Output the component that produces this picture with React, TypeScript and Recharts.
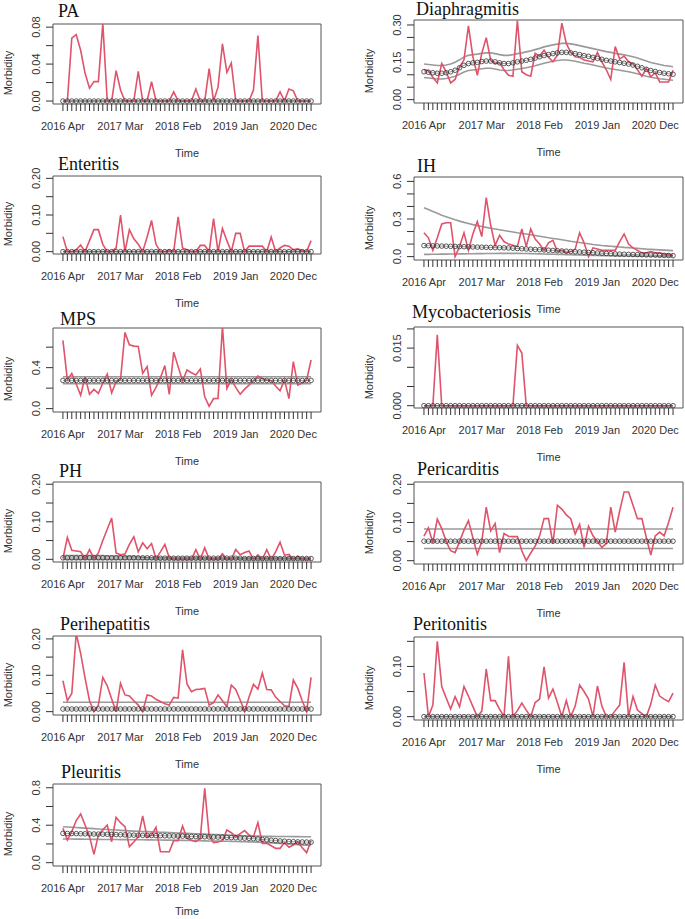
import React from 'react';
import { LineChart, Line, XAxis, YAxis, ReferenceArea } from 'recharts';

// months 2016 Apr .. 2020 Dec as index
const MONTH_IDX = [
  0, 1, 2, 3, 4, 5, 6, 7, 8, 9, 10, 11, 12, 13, 14, 15, 16, 17, 18, 19,
  20, 21, 22, 23, 24, 25, 26, 27, 28, 29, 30, 31, 32, 33, 34, 35, 36, 37, 38, 39,
  40, 41, 42, 43, 44, 45, 46, 47, 48, 49, 50, 51, 52, 53, 54, 55, 56,
];
const TICK_LABELS = ['2016 Apr', '2017 Mar', '2018 Feb', '2019 Jan', '2020 Dec'];
const TICK_AT = [0, 13, 26, 39, 52];

const ZERO_LEVEL = [
  0, 0, 0, 0, 0, 0, 0, 0, 0, 0, 0, 0, 0, 0, 0, 0, 0, 0, 0, 0,
  0, 0, 0, 0, 0, 0, 0, 0, 0, 0, 0, 0, 0, 0, 0, 0, 0, 0, 0, 0,
  0, 0, 0, 0, 0, 0, 0, 0, 0, 0, 0, 0, 0, 0, 0, 0, 0,
];

const PA_OBS = [0, 0, .068, .072, .055, .030, .014, .021, .021, .084, 0, 0, .033, .012, 0, 0, 0, .032, 0, 0, .021, 0, 0, 0, 0, .010, 0, 0, 0, 0, .013, 0, 0, .035, 0, .015, .062, .031, .041, 0, 0, 0, 0, .012, .071, 0, 0, 0, 0, .010, 0, .013, .011, 0, 0, 0, 0];

const DIA_OBS = [.121, .116, .09, .067, .145, .112, .067, .081, .132, .16, .296, .172, .098, .186, .249, .159, .145, .148, .12, .098, .094, .318, .112, .10, .094, .186, .175, .199, .17, .152, .179, .307, .226, .19, .172, .17, .159, .155, .152, .19, .152, .12, .081, .213, .163, .175, .152, .145, .12, .094, .125, .092, .108, .071, .071, .071, .118];
const DIA_EXP = [.112, .110, .108, .106, .106, .108, .112, .118, .128, .138, .145, .148, .150, .153, .155, .155, .152, .148, .145, .145, .148, .152, .155, .158, .162, .167, .172, .177, .181, .185, .188, .19, .19, .188, .185, .181, .177, .174, .17, .166, .162, .158, .155, .152, .149, .146, .143, .139, .134, .128, .122, .117, .113, .109, .106, .104, .102];
const DIA_UP = [.143, .141, .139, .137, .137, .139, .143, .150, .160, .171, .178, .181, .183, .186, .188, .188, .185, .181, .178, .178, .181, .185, .188, .192, .196, .201, .206, .212, .216, .220, .223, .226, .226, .224, .221, .217, .213, .209, .205, .201, .197, .193, .190, .186, .183, .180, .176, .172, .167, .161, .155, .149, .145, .141, .137, .135, .132];
const DIA_LO = [.089, .087, .085, .083, .083, .085, .089, .094, .102, .111, .117, .119, .121, .124, .126, .126, .123, .119, .117, .117, .119, .122, .125, .128, .132, .136, .141, .146, .150, .154, .157, .159, .159, .157, .154, .150, .146, .143, .139, .135, .131, .127, .124, .121, .118, .115, .112, .108, .104, .099, .094, .090, .087, .084, .082, .080, .078];

const ENT_OBS = [.041, 0, 0, .005, .018, 0, .03, .06, .06, .02, 0, 0, .01, .10, 0, .06, .035, .02, 0, .04, .085, .02, 0, 0, .005, 0, .095, .01, .005, 0, 0, .017, .017, 0, .09, 0, .063, .03, 0, .05, .05, 0, .015, .015, .015, .015, 0, .04, 0, .01, .017, .015, .005, .008, .003, 0, .03];

const IH_OBS = [.19, .15, .05, .15, .26, .27, .27, 0, .08, .19, .05, .18, .28, .16, .47, .25, .09, .17, .12, .10, .09, .08, .22, .08, .22, .14, .10, .05, .11, .13, .04, .05, .03, .04, .06, .19, .11, 0, .07, .06, .05, .05, .05, .05, .12, .18, .10, .07, .05, .03, .03, .04, .03, .03, .02, .02, .01];
const IH_EXP = [.088, .087, .086, .085, .084, .083, .082, .081, .080, .079, .078, .077, .076, .075, .074, .073, .072, .071, .070, .069, .067, .065, .063, .061, .059, .057, .055, .053, .051, .049, .047, .045, .043, .041, .039, .037, .035, .033, .031, .029, .027, .025, .023, .021, .020, .019, .018, .017, .016, .015, .014, .013, .012, .011, .010, .009, .008];
const IH_UP = [.39, .375, .36, .345, .33, .318, .306, .294, .283, .273, .264, .255, .247, .24, .233, .226, .22, .214, .208, .202, .196, .19, .185, .18, .174, .168, .162, .156, .150, .145, .140, .134, .128, .122, .117, .112, .107, .102, .097, .093, .089, .086, .083, .080, .077, .074, .072, .069, .066, .063, .060, .058, .056, .054, .052, .050, .048];
const IH_LO = [.018, .018, .019, .019, .020, .020, .021, .021, .022, .022, .023, .023, .024, .024, .025, .025, .025, .026, .026, .026, .026, .026, .025, .025, .024, .023, .022, .021, .020, .019, .018, .017, .016, .015, .014, .013, .012, .011, .010, .009, .008, .007, .007, .006, .006, .005, .005, .004, .004, .004, .003, .003, .003, .002, .002, .002, .002];

const MPS_OBS = [.666, .28, .344, .24, .13, .31, .14, .187, .148, .25, .338, .154, .262, .285, .744, .623, .61, .607, .344, .41, .13, .207, .30, .42, .138, .551, .41, .269, .377, .35, .328, .387, .115, .023, .098, .10, .80, .197, .285, .207, .141, .19, .23, .272, .318, .292, .28, .272, .22, .174, .28, .098, .459, .23, .25, .28, .475];
const MPS_EXP = [.275, .275, .275, .275, .275, .275, .275, .275, .275, .275, .275, .275, .275, .275, .275, .275, .275, .275, .275, .275, .275, .275, .275, .275, .275, .275, .275, .275, .275, .275, .275, .275, .275, .275, .275, .275, .275, .275, .275, .275, .275, .275, .275, .275, .275, .275, .275, .275, .275, .275, .275, .275, .275, .275, .275, .275, .275];
const MPS_UP = [.311, .311, .311, .311, .311, .311, .311, .311, .311, .311, .311, .311, .311, .311, .311, .311, .311, .311, .311, .311, .311, .311, .311, .311, .311, .311, .311, .311, .311, .311, .311, .311, .311, .311, .311, .311, .311, .311, .311, .311, .311, .311, .311, .311, .311, .311, .311, .311, .311, .311, .311, .311, .311, .311, .311, .311, .311];
const MPS_LO = [.243, .243, .243, .243, .243, .243, .243, .243, .243, .243, .243, .243, .243, .243, .243, .243, .243, .243, .243, .243, .243, .243, .243, .243, .243, .243, .243, .243, .243, .243, .243, .243, .243, .243, .243, .243, .243, .243, .243, .243, .243, .243, .243, .243, .243, .243, .243, .243, .243, .243, .243, .243, .243, .243, .243, .243, .243];

const MYC_OBS = [0, 0, 0, .0185, 0, 0, 0, 0, 0, 0, 0, 0, 0, 0, 0, 0, 0, 0, 0, 0, 0, .0157, .0137, 0, 0, 0, 0, 0, 0, 0, 0, 0, 0, 0, 0, 0, 0, 0, 0, 0, 0, 0, 0, 0, 0, 0, 0, 0, 0, 0, 0, 0, 0, 0, 0, 0, 0];

const PH_OBS = [.002, .058, .024, .022, .020, .002, .026, .002, .017, .05, .08, .11, .017, .012, .014, .04, .06, .02, .044, .028, .042, .002, .02, .04, .004, 0, 0, 0, 0, 0, .026, 0, .031, 0, 0, 0, .015, 0, 0, .026, .012, .018, .022, 0, .012, 0, .026, 0, .02, .046, .011, .013, 0, .009, 0, 0, 0];
const PH_EXP = [.004, .004, .004, .004, .004, .004, .004, .004, .004, .004, .004, .004, .004, .004, .004, .004, .004, .004, .004, .004, .004, .003, .003, .003, .003, .003, .003, .003, .003, .003, .003, .003, .003, .003, .003, .003, .003, .003, .003, .003, .003, .002, .002, .002, .002, .002, .002, .002, .002, .002, .002, .002, .002, .002, .002, .002, .002];
const PH_UP = [.010, .010, .010, .010, .010, .010, .010, .010, .010, .010, .009, .009, .009, .009, .008, .008, .008, .007, .006, .005, .005, .005, .005, .005, .005, .005, .005, .005, .005, .005, .005, .004, .004, .004, .004, .004, .004, .004, .004, .004, .004, .004, .004, .004, .004, .004, .004, .004, .004, .004, .004, .004, .004, .004, .004, .004, .004];

const PERIC_OBS = [.064, .086, .047, .109, .084, .05, .026, .021, .05, .08, .105, .06, .017, .05, .14, .078, .097, .021, .071, .064, .063, .063, .026, 0, .02, .038, .065, .11, .11, .045, .145, .135, .12, .11, .07, .095, .035, .09, .065, .05, .035, .045, .14, .075, .13, .18, .18, .145, .11, .11, .06, .015, .065, .075, .065, .10, .14];
const PERIC_EXP = [.051, .051, .051, .051, .051, .051, .051, .051, .051, .051, .051, .051, .051, .051, .051, .051, .051, .051, .051, .051, .051, .051, .051, .051, .051, .051, .051, .051, .051, .051, .051, .051, .051, .051, .051, .051, .051, .051, .051, .051, .051, .051, .051, .051, .051, .051, .051, .051, .051, .051, .051, .051, .051, .051, .051, .051, .051];
const PERIC_UP = [.083, .083, .083, .083, .083, .083, .083, .083, .083, .083, .083, .083, .083, .083, .083, .083, .083, .083, .083, .083, .083, .083, .083, .083, .083, .083, .083, .083, .083, .083, .083, .083, .083, .083, .083, .083, .083, .083, .083, .083, .083, .083, .083, .083, .083, .083, .083, .083, .083, .083, .083, .083, .083, .083, .083, .083, .083];
const PERIC_LO = [.032, .032, .032, .032, .032, .032, .032, .032, .032, .032, .032, .032, .032, .032, .032, .032, .032, .032, .032, .032, .032, .032, .032, .032, .032, .032, .032, .032, .032, .032, .032, .032, .032, .032, .032, .032, .032, .032, .032, .032, .032, .032, .032, .032, .032, .032, .032, .032, .032, .032, .032, .032, .032, .032, .032, .032, .032];

const PERIH_OBS = [.085, .03, .05, .215, .16, .092, .03, 0, .018, .094, .071, .035, 0, .078, .046, .043, .03, .018, 0, .046, .043, .034, .028, .022, .018, .039, .037, .17, .076, .055, .061, .062, .064, .018, .025, .046, .03, .014, .073, .061, .032, 0, .04, .075, .062, .106, .061, .06, .04, .028, .016, .014, .087, .064, .03, 0, .094];
const PERIH_EXP = [.0073, .0073, .0073, .0073, .0073, .0073, .0073, .0073, .0073, .0073, .0073, .0073, .0073, .0073, .0073, .0073, .0073, .0073, .0073, .0073, .0073, .0073, .0073, .0073, .0073, .0073, .0073, .0073, .0073, .0073, .0073, .0073, .0073, .0073, .0073, .0073, .0073, .0073, .0073, .0073, .0073, .0073, .0073, .0073, .0073, .0073, .0073, .0073, .0073, .0073, .0073, .0073, .0073, .0073, .0073, .0073, .0073];
const PERIH_UP = [.026, .026, .026, .026, .026, .026, .026, .026, .026, .026, .026, .026, .026, .026, .026, .026, .026, .026, .026, .026, .026, .026, .026, .026, .026, .026, .026, .026, .026, .026, .026, .026, .026, .026, .026, .026, .026, .026, .026, .026, .026, .026, .026, .026, .026, .026, .026, .026, .026, .026, .026, .026, .026, .026, .026, .026, .026];

const PERIT_OBS = [.087, 0, .023, .15, .06, .037, .015, .04, .02, .06, .041, .02, 0, .011, .095, .032, .032, .015, 0, .12, 0, .012, .027, .013, 0, .028, .035, .099, .037, .055, .028, 0, .032, 0, .021, .063, .05, .035, 0, .061, .021, 0, 0, .012, .023, .108, 0, .04, .013, .006, 0, .025, .063, .041, .035, .03, .047];

const PLE_OBS = [.367, .242, .331, .45, .52, .402, .278, .089, .295, .35, .402, .224, .484, .427, .384, .171, .22, .278, .498, .27, .295, .377, .117, .117, .117, .235, .235, .391, .26, .24, .224, .26, .794, .285, .214, .22, .235, .349, .32, .278, .31, .342, .295, .278, .427, .206, .206, .18, .153, .153, .214, .164, .189, .224, .16, .107, .235];
const PLE_EXP = [.313, .312, .311, .310, .309, .308, .307, .306, .305, .304, .303, .302, .300, .298, .297, .295, .294, .293, .292, .291, .290, .289, .288, .287, .286, .285, .284, .283, .281, .280, .278, .277, .276, .275, .274, .273, .272, .270, .268, .266, .264, .262, .260, .256, .252, .248, .244, .240, .236, .232, .229, .226, .224, .222, .221, .220, .219];
const PLE_UP = [.384, .381, .378, .375, .372, .369, .366, .363, .360, .357, .354, .351, .348, .345, .342, .339, .337, .335, .333, .331, .329, .327, .325, .323, .321, .319, .317, .315, .313, .311, .309, .307, .305, .303, .301, .299, .297, .295, .293, .291, .289, .287, .285, .284, .283, .282, .281, .281, .280, .280, .279, .279, .278, .278, .277, .277, .277];
const PLE_LO = [.253, .252, .252, .251, .251, .250, .250, .249, .249, .248, .248, .247, .247, .246, .246, .245, .245, .244, .244, .243, .243, .242, .242, .241, .241, .240, .239, .238, .237, .236, .235, .234, .233, .232, .231, .230, .229, .228, .227, .226, .225, .224, .222, .220, .218, .216, .214, .211, .208, .205, .202, .199, .196, .193, .190, .187, .185];

// layout: box = [left, top, width, height] of the plot frame in page px
const PANELS = [
  { title: 'PA', obs: PA_OBS, exp: ZERO_LEVEL, up: ZERO_LEVEL, lo: null, box: [53, 24, 268, 80], yDomain: [-0.0032, 0.0834], yTicks: [0, 0.02, 0.04, 0.06, 0.08], yText: ['0.00', '', '0.04', '', '0.08'], titleAt: [58, 2] },
  { title: 'Diaphragmitis', obs: DIA_OBS, exp: DIA_EXP, up: DIA_UP, lo: DIA_LO, box: [414, 20, 269, 83], yDomain: [-0.0135, 0.32], yTicks: [0, 0.05, 0.1, 0.15, 0.2, 0.25, 0.3], yText: ['0.00', '', '', '0.15', '', '', '0.30'], titleAt: [416, 0] },
  { title: 'Enteritis', obs: ENT_OBS, exp: ZERO_LEVEL, up: ZERO_LEVEL, lo: null, box: [53, 176, 268, 78], yDomain: [-0.0064, 0.2064], yTicks: [0, 0.05, 0.1, 0.15, 0.2], yText: ['0.00', '', '0.10', '', '0.20'], titleAt: [58, 155] },
  { title: 'IH', obs: IH_OBS, exp: IH_EXP, up: IH_UP, lo: IH_LO, box: [414, 177, 269, 83], yDomain: [-0.027, 0.635], yTicks: [0, 0.1, 0.2, 0.3, 0.4, 0.5, 0.6], yText: ['0.0', '', '', '0.3', '', '', '0.6'], titleAt: [417, 157] },
  { title: 'MPS', obs: MPS_OBS, exp: MPS_EXP, up: MPS_UP, lo: MPS_LO, box: [53, 328, 268, 84], yDomain: [-0.033, 0.787], yTicks: [0, 0.2, 0.4, 0.6], yText: ['0.0', '', '0.4', ''], titleAt: [60, 310] },
  { title: 'Mycobacteriosis', obs: MYC_OBS, exp: ZERO_LEVEL, up: ZERO_LEVEL, lo: null, box: [414, 327, 269, 81], yDomain: [-0.0006, 0.0205], yTicks: [0, 0.005, 0.01, 0.015, 0.02], yText: ['0.000', '', '', '0.015', ''], titleAt: [412, 303] },
  { title: 'PH', obs: PH_OBS, exp: PH_EXP, up: PH_UP, lo: ZERO_LEVEL, box: [53, 482, 268, 80], yDomain: [-0.0071, 0.206], yTicks: [0, 0.05, 0.1, 0.15, 0.2], yText: ['0.00', '', '0.10', '', '0.20'], titleAt: [59, 462] },
  { title: 'Pericarditis', obs: PERIC_OBS, exp: PERIC_EXP, up: PERIC_UP, lo: PERIC_LO, box: [414, 482, 269, 82], yDomain: [-0.0087, 0.206], yTicks: [0, 0.05, 0.1, 0.15, 0.2], yText: ['0.00', '', '0.10', '', '0.20'], titleAt: [417, 460] },
  { title: 'Perihepatitis', obs: PERIH_OBS, exp: PERIH_EXP, up: PERIH_UP, lo: null, box: [53, 636, 268, 79], yDomain: [-0.0092, 0.208], yTicks: [0, 0.05, 0.1, 0.15, 0.2], yText: ['0.00', '', '0.10', '', '0.20'], titleAt: [60, 615] },
  { title: 'Peritonitis', obs: PERIT_OBS, exp: ZERO_LEVEL, up: ZERO_LEVEL, lo: null, box: [414, 637, 269, 83], yDomain: [-0.0067, 0.1587], yTicks: [0, 0.05, 0.1, 0.15], yText: ['0.00', '', '0.10', ''], titleAt: [413, 615] },
  { title: 'Pleuritis', obs: PLE_OBS, exp: PLE_EXP, up: PLE_UP, lo: PLE_LO, box: [53, 784, 268, 82], yDomain: [-0.0356, 0.84], yTicks: [0, 0.2, 0.4, 0.6, 0.8], yText: ['0.0', '', '0.4', '', '0.8'], titleAt: [61, 763] },
];

const X_DOMAIN = [-2.24, 58.24];
// chart margins around the plot frame; axes take 1px each so they render
const ML = 52, MT = 10, MR = 2, MB = 44;
const SANS = '"Liberation Sans", Arial, sans-serif';
const SERIF = '"Liberation Serif", "Times New Roman", serif';
const RED = '#DF536B';
const GREY = '#9a9a9a';
const INK = '#333';

const XTick = (props: any) => {
  const { x, y, index } = props;
  const k = TICK_AT.indexOf(index);
  if (k < 0) return <g />;
  return (
    <text x={x} y={y + 19} textAnchor="middle" fontSize={11} fontFamily={SANS} fill={INK}>
      {TICK_LABELS[k]}
    </text>
  );
};

const makeYTick = (texts: string[]) => (props: any) => {
  const { x, y, index } = props;
  const t = texts[index];
  if (!t) return <g />;
  const bx = x - 6;
  return (
    <text x={bx} y={y} transform={`rotate(-90 ${bx} ${y})`} textAnchor="middle" fontSize={11} fontFamily={SANS} fill={INK}>
      {t}
    </text>
  );
};

function Panel({ p }: { p: any }) {
  const [bl, bt, bw, bh] = p.box;
  const rows = MONTH_IDX.map((m, k) => ({
    m,
    obs: p.obs[k],
    exp: p.exp[k],
    up: p.up ? p.up[k] : null,
    lo: p.lo ? p.lo[k] : null,
  }));
  const YTick = makeYTick(p.yText);
  return (
    <>
      <div style={{ position: 'absolute', left: p.titleAt[0], top: p.titleAt[1], fontFamily: SERIF, fontSize: 18, lineHeight: '18px', color: '#111', whiteSpace: 'nowrap' }}>
        {p.title}
      </div>
      <div style={{ position: 'absolute', left: bl - 45, top: bt + bh / 2 + 9, transform: 'translate(-50%, -50%) rotate(-90deg)', fontFamily: SANS, fontSize: 11, color: INK, whiteSpace: 'nowrap' }}>
        Morbidity
      </div>
      <div style={{ position: 'absolute', left: bl + bw / 2, top: Math.min(bt + bh + 49, 911), transform: 'translate(-50%, -50%)', fontFamily: SANS, fontSize: 11, color: INK, whiteSpace: 'nowrap' }}>
        Time
      </div>
      <div style={{ position: 'absolute', left: bl - ML - 1, top: bt - MT }}>
        <LineChart width={bw + ML + 1 + MR} height={bh + MT + 1 + MB} data={rows} margin={{ top: MT, right: MR, bottom: MB, left: ML }}>
          <XAxis
            type="number"
            dataKey="m"
            domain={X_DOMAIN}
            ticks={MONTH_IDX}
            interval={0}
            height={1}
            tickSize={7}
            tickMargin={0}
            axisLine={false}
            tickLine={{ stroke: INK, strokeWidth: 1 }}
            tick={<XTick />}
            allowDataOverflow
          />
          <YAxis
            type="number"
            domain={p.yDomain}
            ticks={p.yTicks}
            interval={0}
            width={1}
            tickSize={7}
            tickMargin={0}
            axisLine={false}
            tickLine={{ stroke: INK, strokeWidth: 1 }}
            tick={<YTick />}
            allowDataOverflow
          />
          <ReferenceArea x1={X_DOMAIN[0]} x2={X_DOMAIN[1]} y1={p.yDomain[0]} y2={p.yDomain[1]} fill="none" stroke="#555" strokeWidth={1} ifOverflow="visible" />
          {p.up && <Line dataKey="up" stroke={GREY} strokeWidth={1.6} dot={false} isAnimationActive={false} />}
          {p.lo && <Line dataKey="lo" stroke={GREY} strokeWidth={1.6} dot={false} isAnimationActive={false} />}
          <Line dataKey="obs" stroke={RED} strokeWidth={1.6} dot={false} isAnimationActive={false} />
          <Line
            dataKey="exp"
            stroke="#555"
            strokeWidth={0.6}
            dot={{ r: 2.3, stroke: '#333', strokeWidth: 0.8, fill: 'none' }}
            isAnimationActive={false}
          />
        </LineChart>
      </div>
    </>
  );
}

export default function App() {
  return (
    <div style={{ position: 'absolute', left: 0, top: 0, width: 685, height: 919, background: '#fff', overflow: 'hidden' }}>
      {PANELS.map((p) => (
        <Panel key={p.title} p={p} />
      ))}
    </div>
  );
}
